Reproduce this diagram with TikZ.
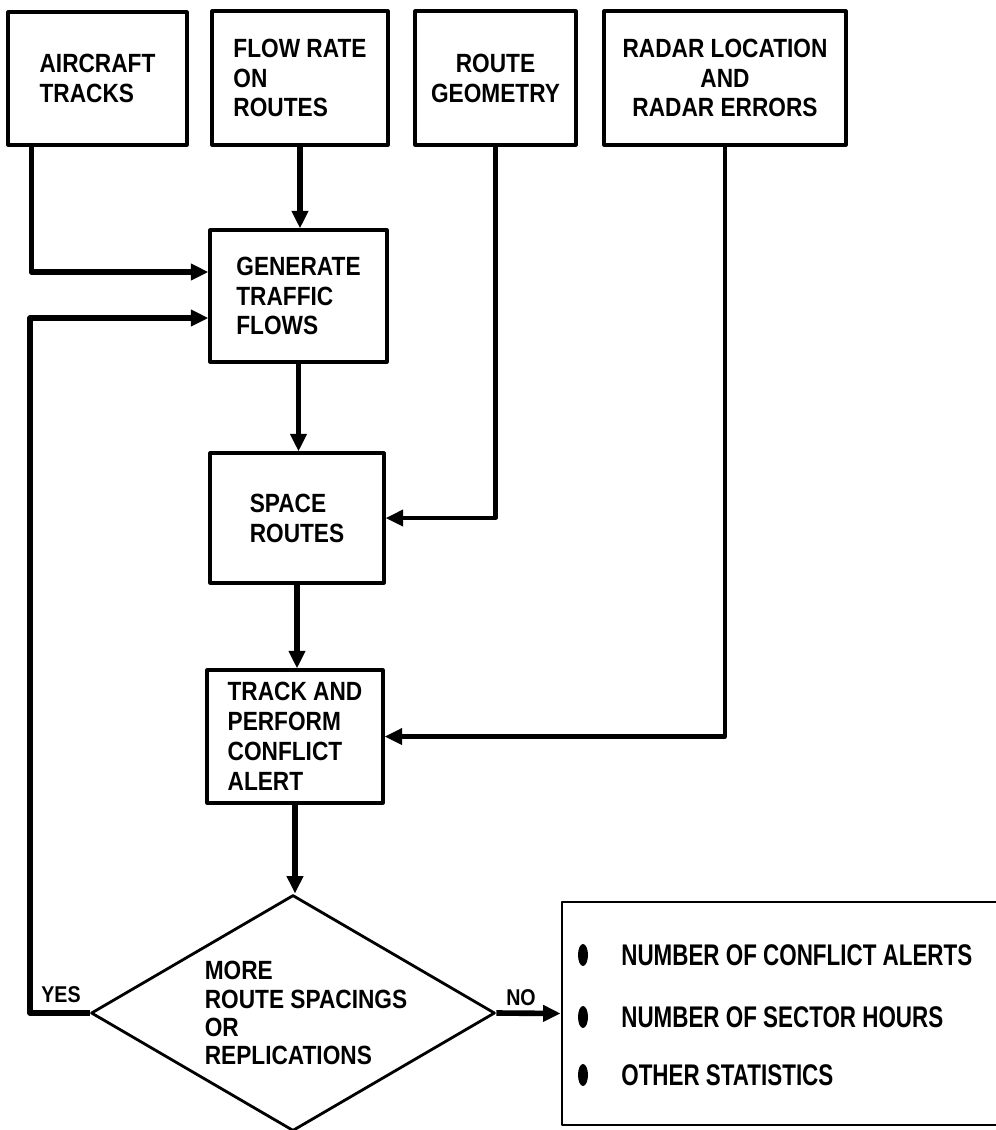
\documentclass[tikz,border=0pt]{standalone}
\usepackage{fontspec}
\setmainfont{Liberation Sans}[FakeStretch=0.86]
\newfontfamily\statfont{Liberation Sans}[FakeStretch=0.75]
\usetikzlibrary{arrows.meta,positioning,shapes.geometric,calc}

\begin{document}
\begin{tikzpicture}[x=0.02cm,y=-0.02cm,>={Triangle[length=10pt,width=9pt]},line join=round,
	box/.style={draw,line width=1.8pt,align=left,inner sep=0pt,font=\fontsize{15pt}{17pt}\selectfont\bfseries},
	mainflow/.style={->,line width=3.2pt},
	sideflow/.style={->,line width=2.4pt}]
	\useasboundingbox (0,0) rectangle (996,1130);
	% inputs
	\node[box,minimum width=3.58cm,minimum height=2.66cm] (AT) at (97.5,78.5) {AIRCRAFT\\TRACKS};
	\node[box,minimum width=3.52cm,minimum height=2.68cm] (FR) at (300,78) {FLOW RATE\\ON\\ROUTES};
	\node[box,align=center,minimum width=3.22cm,minimum height=2.68cm] (RG) at (495.5,78) {ROUTE\\GEOMETRY};
	\node[box,align=center,minimum width=4.84cm,minimum height=2.68cm] (RL) at (725,78) {RADAR LOCATION\\AND\\RADAR ERRORS};
	% process
	\node[box,minimum width=3.54cm,minimum height=2.64cm] (GT) at (298.5,296) {GENERATE\\TRAFFIC\\FLOWS};
	\node[box,minimum width=3.48cm,minimum height=2.6cm] (SR) at (297,518) {SPACE\\ROUTES};
	\node[box,minimum width=3.52cm,minimum height=2.66cm] (TC) at (295,736.5) {TRACK AND\\PERFORM\\CONFLICT\\ALERT};
	\node[draw,diamond,line width=1.6pt,inner sep=0pt,aspect=1.71,minimum width=8.08cm,minimum height=4.72cm] (MR) at (293,1013) {};
	\node[align=left,inner sep=0pt,font=\fontsize{15pt}{16pt}\selectfont\bfseries] (MRt) at (306,1013) {MORE\\ROUTE SPACINGS\\OR\\REPLICATIONS};
	% output
	\node[draw,line width=1.6pt,minimum width=12cm,minimum height=4.46cm] (OS) at (862,1013.5) {};
	\tikzset{item/.style={anchor=west,inner sep=0pt,font=\statfont\fontsize{17pt}{19pt}\selectfont\bfseries}}
	\node[item] (S1) at (621,955) {NUMBER OF CONFLICT ALERTS};
	\node[item] (S2) at (621,1017) {NUMBER OF SECTOR HOURS};
	\node[item] (S3) at (621,1075) {OTHER STATISTICS};
	\foreach \y in {955,1017,1075}
		\fill (583,\y) ellipse [x radius=0.1cm,y radius=0.22cm];
	% connectors
	\coordinate (back) at (30,1013);
	\draw[mainflow] ($(AT.south west)+(25,0)$) |- ($(GT.west)+(0,-24)$);
	\draw[mainflow] (FR.south) -- (FR.south |- GT.north);
	\draw[mainflow] (GT.south) -- (GT.south |- SR.north);
	\draw[mainflow] (SR.south) -- (SR.south |- TC.north);
	\draw[mainflow] (TC.south) -- (TC.south |- MR.north);
	\draw[sideflow] (RG.south) |- (SR.east);
	\draw[sideflow] (RL.south) |- (TC.east);
	\draw[mainflow] (MR.west) -- (back) |- ($(GT.west)+(0,22)$);
	\draw[mainflow] (MR.east) -- (OS.west);
	\node[font=\fontsize{13pt}{15pt}\selectfont\bfseries] (Y) at (61,995) {YES};
	\node[font=\fontsize{13pt}{15pt}\selectfont\bfseries] (N) at (521,998) {NO};
\end{tikzpicture}
\end{document}
